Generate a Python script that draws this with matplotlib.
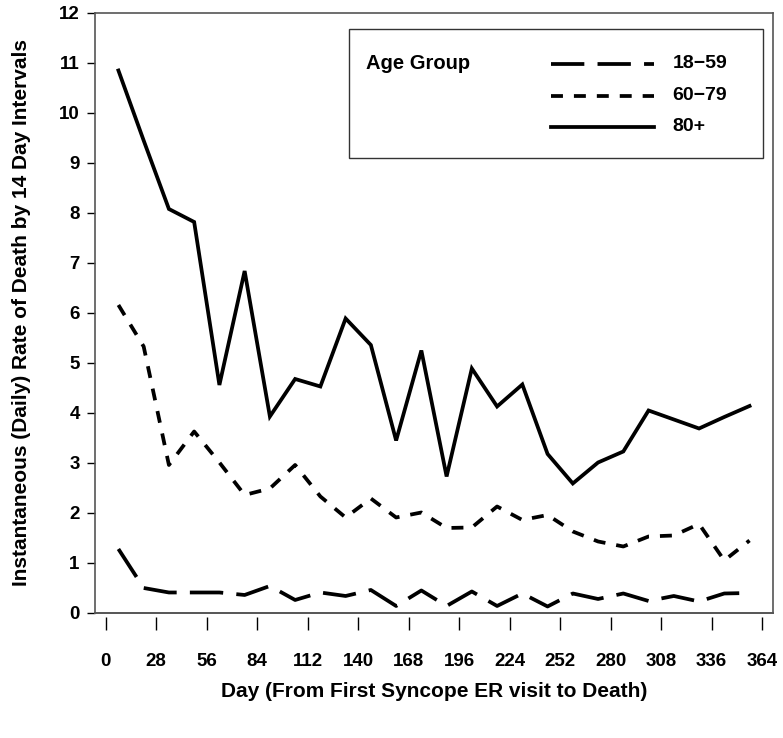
import numpy as np
import matplotlib
matplotlib.use('Agg')
import matplotlib.pyplot as plt
from matplotlib.lines import Line2D
from matplotlib.patches import Rectangle

plt.rcParams['font.family'] = ['Liberation Sans', 'DejaVu Sans']
plt.rcParams['font.weight'] = 'bold'
plt.rcParams['axes.labelweight'] = 'bold'
plt.rcParams['lines.scale_dashes'] = False

# interval midpoints (14 day intervals)
days = np.arange(7, 364, 14)

age_groups = ['18\u221259', '60\u221279', '80+']

rate_18_59 = [1.28, 0.50, 0.41, 0.41, 0.41, 0.36, 0.54, 0.26, 0.41, 0.34, 0.46, 0.14, 0.45,
              0.14, 0.43, 0.14, 0.39, 0.13, 0.39, 0.28, 0.39, 0.24, 0.34, 0.23, 0.39, 0.40]
rate_60_79 = [6.16, 5.33, 2.96, 3.63, 3.01, 2.36, 2.49, 2.96, 2.33, 1.91, 2.29, 1.91, 2.01,
              1.70, 1.71, 2.13, 1.86, 1.96, 1.63, 1.43, 1.33, 1.53, 1.55, 1.78, 1.05, 1.45]
rate_80 = [10.85, 9.45, 8.08, 7.82, 4.56, 6.84, 3.93, 4.68, 4.53, 5.89, 5.36, 3.45, 5.25,
           2.73, 4.89, 4.13, 4.57, 3.18, 2.59, 3.01, 3.23, 4.05, 3.87, 3.69, 3.92, 4.14]

xticks = np.arange(0, 365, 28)
yticks = np.arange(0, 13, 1)

styles = [(0, (24, 9.5)), (0, (8.6, 7.9)), '-']
series = [rate_18_59, rate_60_79, rate_80]

fig = plt.figure(figsize=(7.83, 7.38), dpi=100)
ax = fig.add_axes([0.1213, 0.1694, 0.8659, 0.813])

for vals, ls in zip(series, styles):
    ax.plot(days, vals, color='black', lw=2.7, linestyle=ls, solid_joinstyle='miter',
            dash_capstyle='butt')

ax.set_xlim(-6, 370)
ax.set_ylim(0, 12)
ax.set_xticks(xticks)
ax.set_yticks(yticks)
ax.tick_params(axis='x', length=9.5, width=1.0, pad=16, labelsize=13.5)
ax.tick_params(axis='y', length=6, width=1.0, pad=5, labelsize=13.5)

frame = '#555555'
for s in ['left', 'top', 'right']:
    ax.spines[s].set_color(frame)
    ax.spines[s].set_linewidth(1.2)
ax.spines['bottom'].set_position(('outward', 3))
ax.spines['bottom'].set_visible(False)
ax.axhline(0, color=frame, lw=1.4, clip_on=False)

ax.set_xlabel('Day (From First Syncope ER visit to Death)', fontsize=15, labelpad=9)
ax.set_ylabel('Instantaneous (Daily) Rate of Death by 14 Day Intervals', fontsize=15, labelpad=20)

# legend box
ax.add_patch(Rectangle((0.374, 0.759), 0.611, 0.214, transform=ax.transAxes,
                       fill=False, edgecolor='#333333', lw=1.0))
ax.text(0.40, 0.915, 'Age Group', transform=ax.transAxes, fontsize=14.5,
        va='center', ha='left')
leg_y = [0.915, 0.862, 0.810]
for yy, ls, lab in zip(leg_y, styles, age_groups):
    ax.add_line(Line2D([0.672, 0.824], [yy, yy], transform=ax.transAxes, color='black',
                       lw=2.7, linestyle=ls, dash_capstyle='butt'))
    ax.text(0.852, yy, lab, transform=ax.transAxes, fontsize=14, va='center', ha='left')

fig.savefig('out.png', dpi=100)
